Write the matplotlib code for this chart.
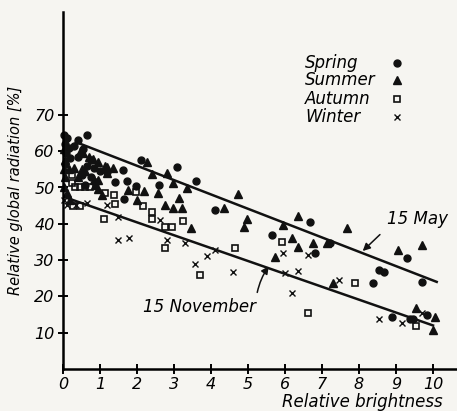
import matplotlib
matplotlib.use('Agg')
import matplotlib.pyplot as plt

plt.rcParams['font.family'] = ['Liberation Sans Narrow', 'DejaVu Sans']
plt.rcParams['font.style'] = 'italic'

# data (relative brightness, relative global radiation %)
spring_x = [0.03, 0.1, 0.05, 0.15, 0.08, 0.2, 0.05, 0.4, 0.65, 0.3, 0.4, 0.55, 0.75, 0.65,
            0.85, 1.0, 1.2, 0.5, 0.75, 0.9, 0.6, 1.4, 1.62, 1.72, 1.97, 1.65, 2.1, 2.6,
            3.08, 3.59, 4.1, 5.65, 6.68, 6.81, 7.22, 8.38, 8.54, 8.68, 9.3, 9.7, 8.89,
            9.38, 9.46, 9.84]
spring_y = [64.5, 63.5, 62, 61, 59.5, 58, 56.5, 63, 64.5, 61.5, 58.4, 60.5, 57.5, 56,
            55.5, 54.5, 54.3, 53.5, 53, 51.5, 50.8, 51.5, 54.8, 51.8, 50.4, 46.8, 57.6, 50.7,
            55.6, 51.8, 43.8, 36.9, 40.5, 32, 34.7, 23.7, 27.3, 26.7, 30.6, 24, 14.3,
            13.8, 13.8, 14.9]

summer_x = [0.02, 0.05, 0.02, 0.05, 0.03, 0.1, 0.15, 0.3, 0.46, 0.55, 0.7, 0.8, 0.95, 1.14,
            0.5, 0.6, 0.4, 0.85, 0.95, 0.86, 0.95, 1.05, 0.2, 1.19, 1.35, 1.19, 1.76, 2.19,
            2.27, 2.41, 2.81, 2.97, 2.57, 2.0, 2.76, 2.97, 3.22, 3.35, 3.14, 3.46, 4.35,
            4.73, 4.97, 4.89, 6.35, 5.95, 6.19, 6.35, 5.73, 6.76, 7.14, 7.68, 7.3, 9.05,
            9.7, 9.54, 10.05, 10.0]
summer_y = [60.5, 57.5, 55, 53, 50, 48.5, 55, 55.5, 59.8, 59.5, 58.5, 57.8, 57, 56,
            55, 54.5, 52.9, 52, 52, 50.7, 49.5, 48, 46.5, 55.6, 55.4, 54, 49.3, 49,
            57, 53.7, 54, 51.2, 48.5, 46.6, 45.2, 44.4, 44.4, 49.9, 47.1, 38.8, 44.4,
            48.2, 41.3, 39.1, 42.1, 39.7, 36.1, 33.6, 30.9, 34.7, 34.7, 38.8, 23.7, 32.8,
            34.2, 16.8, 14.3, 10.7]

autumn_x = [0.24, 0.24, 0.32, 0.46, 0.59, 0.73, 1.14, 1.38, 1.97, 0.27, 0.46, 1.11, 1.4,
            2.16, 2.4, 2.4, 2.76, 2.95, 2.76, 3.24, 3.7, 4.65, 5.92, 7.89, 6.62, 9.54]
autumn_y = [53.4, 51.2, 50.2, 50.2, 50.2, 50.2, 48.5, 47.9, 48.8, 44.9, 45.0, 41.3, 45.4,
            44.9, 43.3, 41.3, 39.1, 39.1, 33.3, 40.8, 25.9, 33.3, 35, 23.7, 15.4, 11.8]

winter_x = [0.03, 0.12, 0.35, 0.65, 1.19, 1.49, 1.49, 1.78, 2.62, 2.81, 3.3, 3.57, 3.89,
            4.1, 4.59, 5.95, 6.62, 6.0, 6.35, 6.19, 7.46, 8.54, 9.16, 9.7]
winter_y = [46.5, 45.2, 45.2, 45.7, 45.2, 41.9, 35.5, 36.1, 41, 35.5, 34.7, 28.9, 31.1,
            32.8, 26.7, 32, 31.4, 26.4, 27, 20.9, 24.5, 13.8, 12.7, 15.4]

# hand drawn regression lines (date lines)
may_x = [0.35, 10.1]
may_y = [62.5, 24.0]
nov_x = [0.0, 10.0]
nov_y = [47.5, 12.0]

series = [
    ('Spring', spring_x, spring_y, dict(marker='o', ms=5, mfc='#111111', mec='#111111')),
    ('Summer', summer_x, summer_y, dict(marker='^', ms=6, mfc='#111111', mec='#111111')),
    ('Autumn', autumn_x, autumn_y, dict(marker='s', ms=4.3, mfc='none', mec='#111111', mew=1.2)),
    ('Winter', winter_x, winter_y, dict(marker='x', ms=4.5, mec='#111111', mew=1.0)),
]

bg = '#f6f5f1'
fig = plt.figure(figsize=(4.57, 4.11), dpi=100, facecolor=bg)
ax = fig.add_axes([63 / 457, 42 / 411, 394 / 457, 357 / 411])
ax.set_facecolor(bg)
ax.set_xlim(0, 394 / 37)
ax.set_ylim(0, 357 / 3.63)

for name, xs, ys, style in series:
    ax.plot(xs, ys, ls='none', clip_on=False, **style)

ax.plot(may_x, may_y, color='#111111', lw=1.8)
ax.plot(nov_x, nov_y, color='#111111', lw=1.8)

# line labels with arrows
ax.annotate('15 May', xy=(8.1, 32.5), xytext=(8.75, 41.3), fontsize=12, va='center',
            arrowprops=dict(arrowstyle='-|>', color='#111111', lw=1.1, mutation_scale=11,
                            shrinkA=4, shrinkB=0, relpos=(0, 0)))
ax.annotate('15 November', xy=(5.56, 28.3), xytext=(2.15, 17.1), fontsize=12, va='center',
            arrowprops=dict(arrowstyle='-|>', color='#111111', lw=1.1, mutation_scale=11,
                            shrinkA=2, shrinkB=0, relpos=(1, 0.5),
                            connectionstyle='arc3,rad=-0.15'))

# legend drawn by hand: labels on the left, symbols in a column
leg_y = [84.3, 79.6, 74.4, 69.4]
for (name, xs, ys, style), ly in zip(series, leg_y):
    ax.text(6.54, ly, name, fontsize=12, va='center', ha='left')
    ax.plot([9.03], [ly], ls='none', **style)

ax.spines['top'].set_visible(False)
ax.spines['right'].set_visible(False)
ax.spines['left'].set_linewidth(1.8)
ax.spines['bottom'].set_linewidth(1.8)

ax.set_xticks(range(0, 11))
ax.set_yticks(range(10, 80, 10))
ax.tick_params(direction='inout', length=7, width=1.4, labelsize=11.5, pad=2.5)

fig.text(16 / 457, 1 - 190 / 411, 'Relative global radiation [%]', rotation=90,
         ha='center', va='center', fontsize=10.5)
fig.text(362 / 457, 1 - 402 / 411, 'Relative brightness', ha='center', va='center',
         fontsize=12)

fig.savefig('out.png', dpi=100, facecolor=bg)
